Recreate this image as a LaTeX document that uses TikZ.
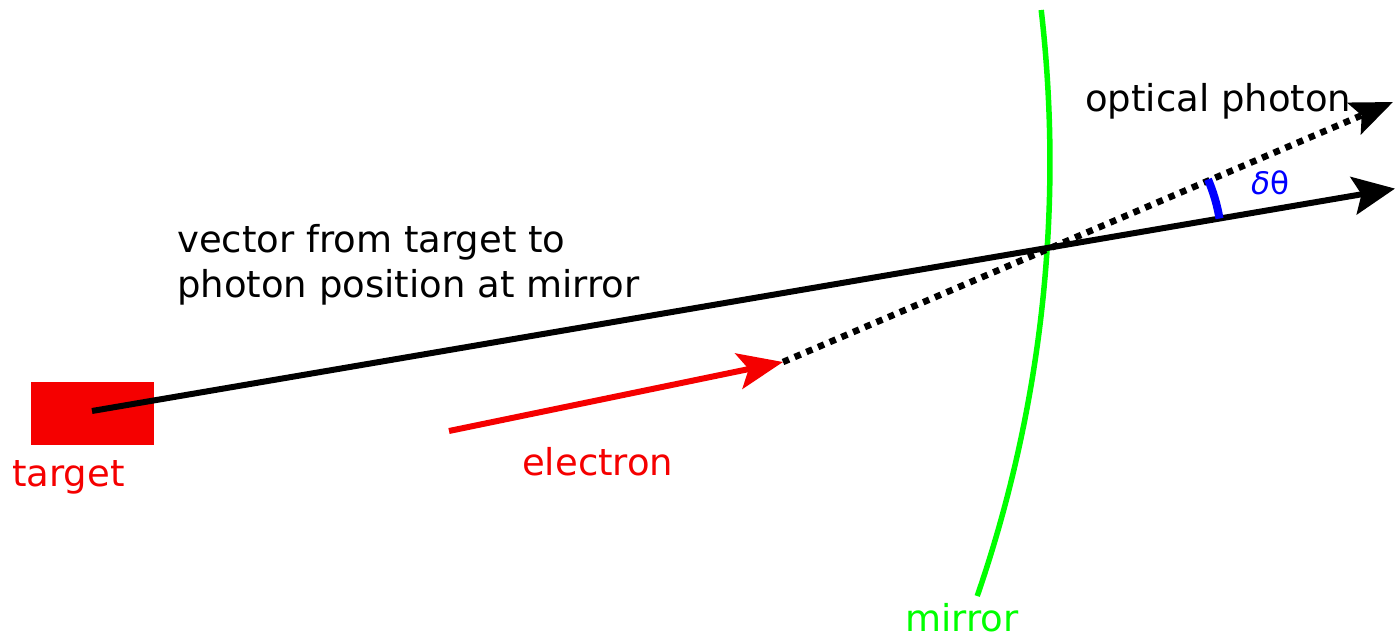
\documentclass[tikz,border=0pt]{standalone}
\usepackage{fontspec}
\setmainfont{DejaVu Sans}
\usetikzlibrary{arrows.meta}
\definecolor{tred}{RGB}{245,0,0}
\definecolor{mgreen}{RGB}{0,255,0}
\definecolor{dblue}{RGB}{0,0,255}
\begin{document}
\begin{tikzpicture}[x=1pt,y=-1pt,
  lbl/.style={inner sep=0pt,anchor=base west,font=\fontsize{37}{45}\selectfont},
  vec/.style={line width=6pt},
  bigtip/.style={-{Stealth[length=42pt,width=38pt,inset=8pt]}},
  redtip/.style={-{Stealth[length=45pt,width=36pt,inset=10pt]}},
  dots/.style={line width=6.5pt,dash pattern=on 6.5pt off 6.2pt}]
\useasboundingbox (0,0) rectangle (1395,639);
% target
\node[fill=tred,minimum width=123pt,minimum height=63pt,inner sep=0pt] (tgt) at (92.5,413.5) {};
\node[lbl,text=tred] (tgtlbl) at (12,486) {target};
% mirror
\draw[mgreen,line width=5.5pt] (1041.2,10) arc[start angle=-6.58,end angle=19.05,radius=1329] coordinate (mirbot);
\node[lbl,text=mgreen] (mirlbl) at (905,631) {mirror};
% key points
\coordinate (X) at (1047,248);
\coordinate (S) at (1395,188.6);
\coordinate (E0) at (449,431);
\coordinate (E1) at (783,362);
\coordinate (P) at (1393,102);
% electron
\draw[vec,tred,redtip] (E0) -- (E1);
\node[lbl,text=tred] (elbl) at (522,475) {electron};
% photon direction
\draw[dots,-{Stealth[length=42pt,width=34pt,inset=8pt]}] (E1) -- (P);
\node[lbl] (oplbl) at (1085,112) {optical photon};
% vector from target
\draw[vec,bigtip] (92,411) -- (S);
\node[lbl] (vlbl1) at (177,252) {vector from target to};
\node[lbl] (vlbl2) at (177,298) {photon position at mirror};
% angle
\draw[dblue,line width=8pt] (X) ++(-9.69:175) arc[start angle=-9.69,end angle=-23.1,radius=175];
\node[inner sep=0pt,anchor=base west,font=\fontsize{31}{37}\selectfont,text=dblue] (dth) at (1251,195) {\textit{δ}θ};
\end{tikzpicture}
\end{document}
